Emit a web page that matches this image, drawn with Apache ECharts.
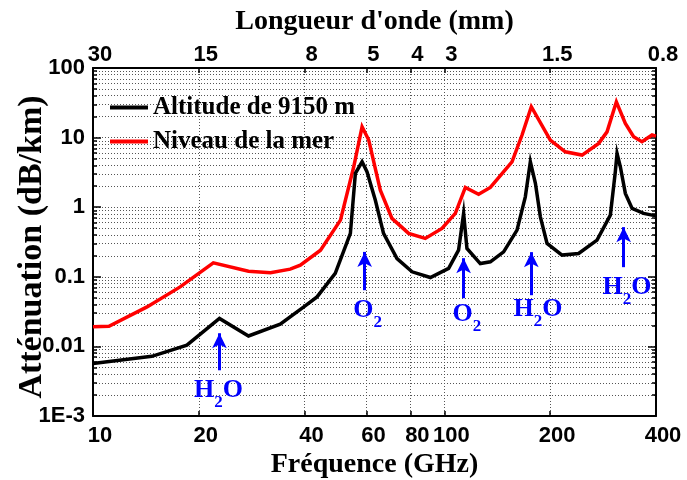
<!DOCTYPE html>
<html><head><meta charset="utf-8">
<script src="https://cdn.jsdelivr.net/npm/echarts@6/dist/echarts.min.js"></script>
<style>html,body{margin:0;padding:0;background:#fff}#c{width:687px;height:480px}</style>
</head><body><div id="c"></div>
<script>
// ---- axis ticks ----
const freqTicks = [10, 20, 40, 60, 80, 100, 200, 400];
const waveTickLabels = ['30', '15', '8', '5', '4', '3', '1.5', '0.8'];
const attTicks = [0.001, 0.01, 0.1, 1, 10, 100];
const attTickLabels = ['1E-3', '0.01', '0.1', '1', '10', '100'];
const attMinorTicks = [0.002,0.003,0.004,0.005,0.006,0.007,0.008,0.009,
  0.02,0.03,0.04,0.05,0.06,0.07,0.08,0.09,
  0.2,0.3,0.4,0.5,0.6,0.7,0.8,0.9,
  2,3,4,5,6,7,8,9,
  20,30,40,50,60,70,80,90];

// ---- series: Altitude de 9150 m ----
const altFreq = [10, 14.7, 18.5, 22.9, 27.7, 34.1, 39.8, 43.4, 48.9, 54.0, 55.8, 58.3, 60.2, 63.6, 67.1, 73.3, 80.9, 91.2, 102.8, 109.7, 113.4, 115.9, 126.5, 135.1, 147.4, 160.9, 169.9, 175.6, 181.5, 187.5, 195.9, 216.1, 240.9, 271.8, 296.6, 306.4, 309.9, 316.7, 327.2, 342, 368.8, 389.8, 400];
const altAtt = [0.0057, 0.0072, 0.0104, 0.0252, 0.0141, 0.0208, 0.0369, 0.0514, 0.112, 0.42, 3.06, 4.49, 3.23, 1.26, 0.42, 0.183, 0.118, 0.0977, 0.132, 0.241, 0.814, 0.255, 0.155, 0.164, 0.228, 0.468, 1.41, 4.49, 2.2, 0.727, 0.301, 0.205, 0.216, 0.336, 0.769, 3.23, 5.93, 3.81, 1.58, 0.96, 0.814, 0.769, 0.76];

// ---- series: Niveau de la mer ----
const seaFreq = [10, 11.1, 14.25, 17.7, 22.0, 27.7, 32.0, 36.4, 38.9, 44.4, 50.6, 55.2, 58.3, 60.9, 65.7, 70.9, 79.1, 88.2, 98.4, 107.4, 114.7, 125.1, 135.1, 155.7, 166.3, 176.7, 200.1, 220.8, 246.4, 274.8, 290.2, 308.5, 327.2, 345.4, 364.9, 389.8, 400];
const seaAtt = [0.0191, 0.0195, 0.0369, 0.0716, 0.1585, 0.1205, 0.114, 0.129, 0.147, 0.241, 0.652, 3.81, 14.3, 9.22, 1.76, 0.69, 0.42, 0.356, 0.495, 0.814, 1.92, 1.53, 1.92, 4.49, 10.9, 27.8, 9.22, 6.26, 5.61, 8.26, 12.1, 32.7, 16.0, 10.3, 8.71, 10.9, 10.5];

// ---- annotations (absorption lines) ----
const annotArrowFreq = [22.9, 59.3, 113.4, 176.7, 323.6];
const annotArrowFrom = [0.00454, 0.0642, 0.0493, 0.0544, 0.1375];
const annotArrowTo = [0.01545, 0.228, 0.185, 0.226, 0.517];
const annotLabelFreq = [22.74, 60.5, 115.9, 184.6, 330.7];
const annotLabelAtt = [0.00267, 0.0378, 0.0331, 0.0391, 0.0802];
const annotMain = [['H', 'O'], ['O', ''], ['O', ''], ['H', 'O'], ['H', 'O']];

const seriesNames = ['Altitude de 9150 m', 'Niveau de la mer'];

function nearestIdx(arr, v) {
  let best = 0, bd = Infinity;
  arr.forEach((a, i) => { const d = Math.abs(Math.log(a) - Math.log(v)); if (d < bd) { bd = d; best = i; } });
  return best;
}

const serif = 'Liberation Serif';
const sans = 'Liberation Sans';
const gridDot = { show: true, lineStyle: { color: '#555', width: 1, type: [1, 2] } };

const chart = echarts.init(document.getElementById('c'), null, { renderer: 'canvas' });

const logY = (extra) => Object.assign({
  type: 'log', logBase: 10, min: 0.001, max: 100, gridIndex: 0
}, extra);

const option = {
  animation: false,
  backgroundColor: '#fff',
  grid: { left: 93, right: 31, top: 68, bottom: 64, containLabel: false, outerBoundsMode: 'none' },
  legend: {
    data: seriesNames,
    orient: 'vertical', left: 105, top: 90,
    icon: 'rect',
    itemWidth: 38, itemHeight: 4, itemGap: 9,
    textStyle: { fontFamily: serif, fontWeight: 'bold', fontSize: 25, color: '#000' }
  },
  xAxis: [
    {
      type: 'log', logBase: 10, min: 10, max: 400, position: 'bottom',
      name: 'Fréquence (GHz)', nameLocation: 'middle', nameGap: 35, nameMoveOverlap: false,
      nameTextStyle: { fontFamily: serif, fontWeight: 'bold', fontSize: 28, color: '#000' },
      axisLine: { show: true, lineStyle: { color: '#000', width: 2 } },
      axisTick: { show: true, inside: true, length: 5, customValues: freqTicks, lineStyle: { color: '#000', width: 1.5 } },
      axisLabel: { customValues: freqTicks, margin: 9, padding: [0, 0, 0, 14],
        fontFamily: sans, fontWeight: 'bold', fontSize: 22, color: '#000',
        formatter: v => String(freqTicks[nearestIdx(freqTicks, v)]) },
      splitLine: gridDot, minorTick: { show: false }
    },
    {
      type: 'log', logBase: 10, min: 10, max: 400, position: 'top',
      name: "Longueur d'onde (mm)", nameLocation: 'middle', nameGap: 32, nameMoveOverlap: false,
      nameTextStyle: { fontFamily: serif, fontWeight: 'bold', fontSize: 28, color: '#000' },
      axisLine: { show: true, lineStyle: { color: '#000', width: 2 } },
      axisTick: { show: true, inside: true, length: 5, customValues: freqTicks, lineStyle: { color: '#000', width: 1.5 } },
      axisLabel: { customValues: freqTicks, margin: 2, padding: [0, 0, 0, 14],
        fontFamily: sans, fontWeight: 'bold', fontSize: 22, color: '#000',
        formatter: v => waveTickLabels[nearestIdx(freqTicks, v)] },
      splitLine: { show: false }
    }
  ],
  yAxis: [
    logY({
      position: 'left',
      name: 'Atténuation (dB/km)', nameLocation: 'middle', nameGap: 44, nameMoveOverlap: false,
      nameTextStyle: { fontFamily: serif, fontWeight: 'bold', fontSize: 34, color: '#000', padding: [0, 10, 0, 0] },
      axisLine: { show: true, lineStyle: { color: '#000', width: 2 } },
      axisTick: { show: true, inside: true, length: 8, customValues: attTicks, lineStyle: { color: '#000', width: 1.5 } },
      axisLabel: { customValues: attTicks, margin: 8, fontFamily: sans, fontWeight: 'bold', fontSize: 22, color: '#000',
        formatter: v => attTickLabels[nearestIdx(attTicks, v)] },
      splitLine: gridDot
    }),
    logY({
      position: 'left',
      axisLine: { show: false },
      axisTick: { show: true, inside: true, length: 4, customValues: attMinorTicks, lineStyle: { color: '#000', width: 1.5 } },
      axisLabel: { show: false },
      splitLine: gridDot
    }),
    logY({
      position: 'right',
      axisLine: { show: true, lineStyle: { color: '#000', width: 2 } },
      axisTick: { show: true, inside: true, length: 8, customValues: attTicks, lineStyle: { color: '#000', width: 1.5 } },
      axisLabel: { show: false },
      splitLine: { show: false }
    }),
    logY({
      position: 'right',
      axisLine: { show: false },
      axisTick: { show: true, inside: true, length: 4, customValues: attMinorTicks, lineStyle: { color: '#000', width: 1.5 } },
      axisLabel: { show: false },
      splitLine: { show: false }
    })
  ],
  series: [
    {
      name: seriesNames[0], type: 'line', xAxisIndex: 0, yAxisIndex: 0,
      data: altFreq.map((f, i) => [f, altAtt[i]]),
      symbol: 'none', showSymbol: false, z: 3,
      lineStyle: { color: '#000', width: 3.5, join: 'miter' }, itemStyle: { color: '#000' },
      markLine: {
        silent: true, symbol: ['none', 'arrow'], symbolSize: [11, 15], precision: 6,
        label: { show: false },
        lineStyle: { color: '#0000ff', width: 3, type: 'solid' },
        data: annotArrowFreq.map((f, i) => [{ coord: [f, annotArrowFrom[i]] }, { coord: [f, annotArrowTo[i]] }])
      },
      markPoint: {
        silent: true, symbol: 'circle', symbolSize: 1,
        itemStyle: { color: 'rgba(0,0,0,0)' },
        label: {
          show: true, position: 'inside', offset: [0, 4],
          formatter: p => '{n|' + annotMain[p.dataIndex][0] + '}{s|2}' + (annotMain[p.dataIndex][1] ? '{n|' + annotMain[p.dataIndex][1] + '}' : ''),
          rich: {
            n: { fontFamily: serif, fontWeight: 'bold', fontSize: 26, lineHeight: 26, color: '#0000ff', verticalAlign: 'top' },
            s: { fontFamily: serif, fontWeight: 'bold', fontSize: 17, lineHeight: 17, color: '#0000ff', verticalAlign: 'top', padding: [17, 0, 0, 0] }
          }
        },
        data: annotLabelFreq.map((f, i) => ({ coord: [f, annotLabelAtt[i]] }))
      }
    },
    {
      name: seriesNames[1], type: 'line', xAxisIndex: 0, yAxisIndex: 0,
      data: seaFreq.map((f, i) => [f, seaAtt[i]]),
      symbol: 'none', showSymbol: false, z: 2,
      lineStyle: { color: '#ff0000', width: 3.5, join: 'miter' }, itemStyle: { color: '#ff0000' }
    }
  ]
};
chart.setOption(option);
</script></body></html>
